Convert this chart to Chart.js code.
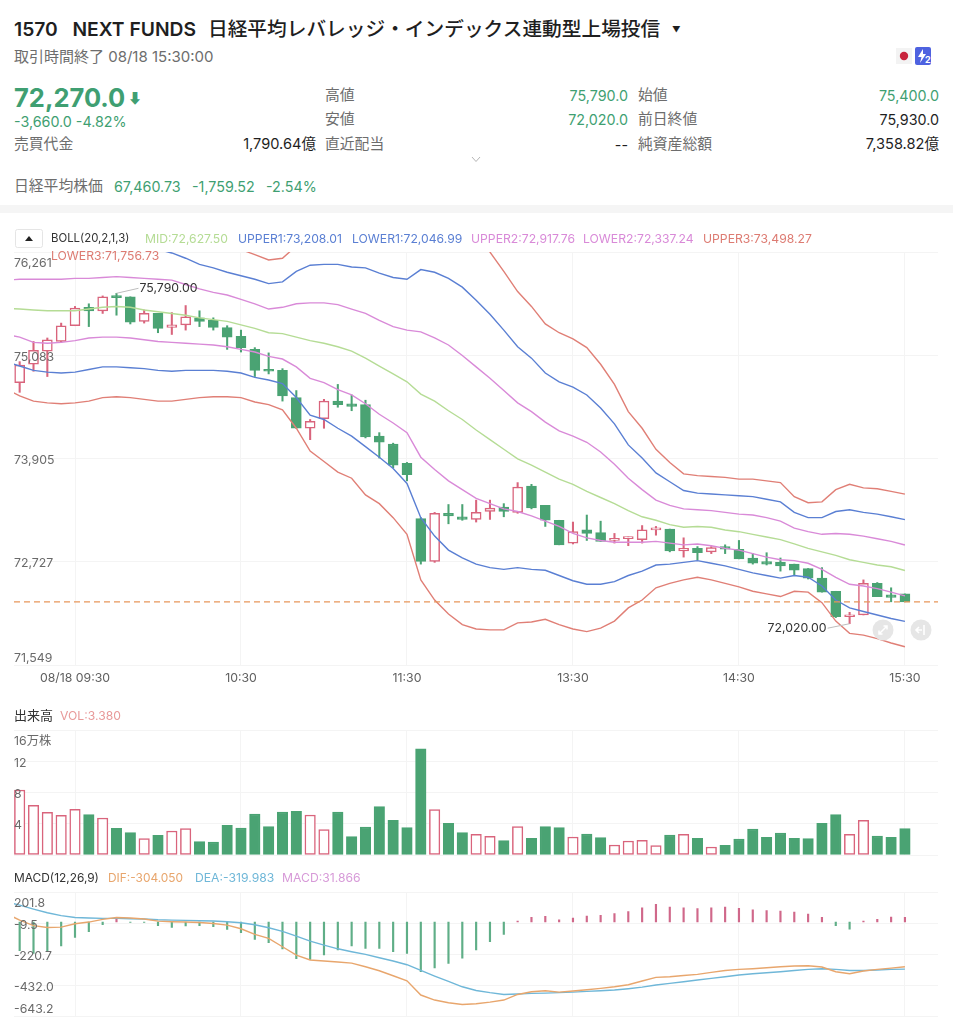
<!DOCTYPE html>
<html lang="ja"><head><meta charset="utf-8">
<script src="https://cdn.jsdelivr.net/npm/chart.js@4"></script>
<style>
html,body{margin:0;padding:0;background:#fff;width:953px;height:1024px;overflow:hidden;font-family:Inter,"Noto Sans CJK JP",sans-serif;}
.t{position:absolute;transform:translateY(-50%);white-space:nowrap;line-height:1.2;z-index:5}
.r{transform:translate(-100%,-50%)}
.g{color:#3f9f72}.k{color:#1f1f1f}.m{color:#6d6d6d}
canvas{position:absolute;left:0}
.band{position:absolute;left:0;top:205px;width:953px;height:8px;background:#f5f5f5}
.l{font-size:12.2px}
</style></head><body>
<span class="t k" style="left:14px;top:30px;font-size:19.3px;font-weight:600">1570&nbsp;&nbsp;&nbsp;NEXT FUNDS</span>
<span class="t k" style="left:208px;top:30px;font-size:19.7px;font-weight:500">日経平均レバレッジ・インデックス連動型上場投信</span>
<span class="t k" style="left:672px;top:30px;font-size:8.5px">▼</span>
<span class="t m" style="left:14px;top:57px;font-size:15px">取引時間終了 08/18 15:30:00</span>
<span class="t g" style="left:14px;top:98px;font-size:25.5px;font-weight:700">72,270.0</span>
<span class="t g" style="left:128px;top:98px;font-size:14px;font-weight:700">⬇</span>
<span class="t g" style="left:14px;top:122px;font-size:14.3px">-3,660.0 -4.82%</span>
<span class="t m" style="left:14px;top:144.5px;font-size:14.8px">売買代金</span>
<span class="t k r" style="left:316px;top:144.5px;font-size:14.6px">1,790.64億</span>
<span class="t m" style="left:325px;top:95.5px;font-size:14.8px">高値</span>
<span class="t g r" style="left:628px;top:95.5px;font-size:14.3px">75,790.0</span>
<span class="t m" style="left:638px;top:95.5px;font-size:14.8px">始値</span>
<span class="t g r" style="left:939px;top:95.5px;font-size:14.3px">75,400.0</span>
<span class="t m" style="left:325px;top:119.5px;font-size:14.8px">安値</span>
<span class="t g r" style="left:628px;top:119.5px;font-size:14.3px">72,020.0</span>
<span class="t m" style="left:638px;top:119.5px;font-size:14.8px">前日終値</span>
<span class="t k r" style="left:939px;top:119.5px;font-size:14.3px">75,930.0</span>
<span class="t m" style="left:325px;top:144.5px;font-size:14.8px">直近配当</span>
<span class="t k r" style="left:628px;top:144.5px;font-size:14.3px">--</span>
<span class="t m" style="left:638px;top:144.5px;font-size:14.8px">純資産総額</span>
<span class="t k r" style="left:939px;top:144.5px;font-size:14.6px">7,358.82億</span>
<svg style="position:absolute;left:471px;top:156px" width="10" height="7"><path d="M1 1L5 5.5L9 1" fill="none" stroke="#b5b5b5" stroke-width="1"/></svg>
<span class="t m" style="left:14px;top:186.5px;font-size:14.8px">日経平均株価</span>
<span class="t g" style="left:114px;top:186.5px;font-size:14.3px">67,460.73</span>
<span class="t g" style="left:192px;top:186.5px;font-size:14.3px">-1,759.52</span>
<span class="t g" style="left:266px;top:186.5px;font-size:14.3px">-2.54%</span>
<svg style="position:absolute;left:896px;top:47px" width="36" height="18"><rect x="0" y="1" width="16" height="16" fill="#f3f3f3"/><circle cx="8" cy="9" r="4.2" fill="#c8233c"/><rect x="19" y="0" width="16" height="18" rx="2" fill="#4e62e0"/><path d="M27 2L22 10H25.5L24 16L30 7H27Z" fill="#fff"/><text x="29" y="16" font-size="9" font-weight="700" fill="#fff" font-family="Inter">2</text></svg>
<div class="band"></div>
<svg style="position:absolute;left:15px;top:229px" width="28" height="19"><rect x=".5" y=".5" width="27" height="18" rx="2" fill="#fff" stroke="#e5e5e5"/><path d="M10 12L14 7L18 12Z" fill="#222"/></svg>
<span class="t l" style="left:51px;top:238.5px;color:#333;font-size:11.4px">BOLL(20,2,1,3)</span>
<span class="t l" style="left:145px;top:238.5px;color:#b5dc95">MID:72,627.50</span>
<span class="t l" style="left:238px;top:238.5px;color:#5a7fd3">UPPER1:73,208.01</span>
<span class="t l" style="left:352px;top:238.5px;color:#5a7fd3">LOWER1:72,046.99</span>
<span class="t l" style="left:471px;top:238.5px;color:#d98ad8">UPPER2:72,917.76</span>
<span class="t l" style="left:583px;top:238.5px;color:#d98ad8">LOWER2:72,337.24</span>
<span class="t l" style="left:703px;top:238.5px;color:#dd7b72">UPPER3:73,498.27</span>
<span class="t l" style="left:51px;top:256px;color:#dd7b72;z-index:7">LOWER3:71,756.73</span>
<span class="t l" style="left:14px;top:716px;color:#333;font-size:13px">出来高</span>
<span class="t l" style="left:60px;top:716px;color:#e89a9a">VOL:3.380</span>
<span class="t l" style="left:14px;top:878px;color:#333;font-size:11.9px">MACD(12,26,9)</span>
<span class="t l" style="left:108px;top:878px;color:#e8a66d;font-size:11.9px">DIF:-304.050</span>
<span class="t l" style="left:195px;top:878px;color:#6fb7d8">DEA:-319.983</span>
<span class="t l" style="left:282px;top:878px;color:#d79ad8">MACD:31.866</span>
<svg style="position:absolute;left:872px;top:619px;z-index:6" width="22" height="22"><circle cx="11" cy="11" r="10.5" fill="#e6e6e6"/><path d="M7 15L15 7M11.5 7H15V10.5M7 11.5V15H10.5" fill="none" stroke="#fff" stroke-width="1.5"/></svg>
<svg style="position:absolute;left:910px;top:619px;z-index:6" width="22" height="22"><circle cx="11" cy="11" r="10.5" fill="#e6e6e6"/><path d="M14 6V16M12 11H6M9 8L6 11L9 14" fill="none" stroke="#fff" stroke-width="1.6"/></svg>

<canvas id="price" width="953" height="450" style="top:240px"></canvas>
<canvas id="volume" width="953" height="140" style="top:720px"></canvas>
<canvas id="macd" width="953" height="144" style="top:880px"></canvas>
<script>
// Bar labels on the x axis: bar index -> clock label
const xTickIdx=[4,16,28,40,52,64];
const xTickLabels=['08/18 09:30','10:30','11:30','13:30','14:30','15:30'];
const priceTicks=[71549,72727,73905,75083,76261];
const priceTickLabels=['71,549','72,727','73,905','75,083','76,261'];
const volTicks=[0,4,8,12,16];
const volTickLabels=['','4','8','12','16万株'];
const macdTicks=[-643.2,-432.0,-220.7,-9.5,201.8];
const macdTickLabels=['-643.2','-432.0','-220.7','-9.5','201.8'];
const lastPrice=72270;

const opens=[74770,74980,75130,75240,75420,75630,75590,75750,75750,75470,75560,75400,75430,75510,75480,75400,75300,75150,74910,74910,74600,74250,74360,74560,74530,74520,74160,74070,73850,73220,72730,73280,73240,73210,73300,73350,73290,73590,73370,73200,72940,73090,73060,72970,72990,72980,73090,73100,72850,72880,72840,72900,72870,72770,72730,72720,72700,72650,72540,72390,72100,72120,72480,72350,72360];
const closes=[74970,75140,75260,75420,75620,75590,75750,75740,75460,75560,75390,75430,75520,75470,75400,75290,75170,74910,74900,74620,74250,74330,74560,74520,74500,74150,74090,73830,73720,72730,73280,73250,73210,73290,73340,73300,73580,73340,73200,72920,73070,73050,72960,72990,73000,73090,73100,72850,72880,72830,72890,72870,72760,72710,72700,72680,72630,72540,72380,72100,72120,72480,72330,72320,72270];
const highs=[75010,75240,75280,75450,75640,75670,75760,75790,75750,75600,75560,75570,75650,75590,75510,75420,75370,75170,75110,74930,74680,74350,74580,74750,74630,74570,74200,74080,73860,73230,73290,73380,73380,73430,73430,73390,73630,73610,73370,73200,73180,73260,73190,73050,73010,73140,73130,73100,73000,72900,72900,72920,72970,72820,72830,72770,72700,72650,72660,72390,72150,72520,72490,72430,72360];
const lows=[74660,74900,74840,75230,75420,75410,75560,75540,75440,75450,75340,75320,75370,75410,75370,75150,75120,74840,74870,74560,74250,74120,74250,74490,74450,74140,73910,73800,73650,72700,72720,73160,73200,73180,73210,73240,73280,73330,73130,72920,72930,72970,72960,72940,72910,72940,73030,72840,72780,72750,72820,72820,72760,72700,72690,72620,72570,72530,72380,72090,72020,72120,72330,72270,72270];

// Bollinger series: the first value of each belongs to the bar just before the visible window
const mid=[75620,75610,75600,75590,75590,75590,75610,75630,75640,75630,75600,75580,75560,75540,75510,75490,75470,75430,75390,75340,75330,75290,75250,75220,75180,75130,75050,74960,74870,74780,74640,74560,74450,74350,74230,74120,74010,73900,73830,73750,73670,73610,73530,73460,73390,73310,73240,73200,73150,73120,73130,73120,73090,73070,73040,73010,72980,72930,72880,72840,72800,72750,72720,72690,72670,72627.5];
const upper1=[76280,76290,76300,76300,76300,76300,76320,76340,76330,76320,76300,76290,76250,76190,76120,76080,76030,75990,75950,75900,75920,76040,76110,76120,76120,76090,76080,76020,75970,75950,76060,76030,75960,75860,75710,75550,75370,75180,75050,74880,74780,74720,74630,74480,74300,74060,73910,73740,73640,73540,73510,73500,73490,73480,73470,73440,73410,73290,73230,73230,73300,73320,73290,73270,73240,73208.01];
const lower1=[75010,74960,74910,74890,74880,74890,74920,74950,74950,74940,74930,74910,74900,74910,74910,74910,74900,74880,74830,74800,74760,74600,74400,74350,74250,74160,74040,73920,73790,73620,73230,73020,72860,72770,72700,72660,72640,72660,72640,72630,72570,72510,72470,72470,72500,72570,72620,72690,72700,72720,72740,72710,72680,72640,72600,72570,72540,72570,72550,72450,72290,72200,72160,72120,72080,72046.99];
const upper2=[75940,75950,75950,75950,75950,75960,75960,75970,75980,75970,75960,75950,75940,75890,75840,75800,75770,75720,75670,75610,75630,75670,75680,75680,75660,75610,75560,75480,75410,75370,75350,75280,75200,75080,74950,74820,74680,74540,74440,74320,74220,74160,74090,73980,73840,73680,73550,73430,73370,73330,73320,73310,73290,73270,73260,73230,73190,73110,73070,73040,73050,73040,73020,72990,72960,72917.76];
const lower2=[75320,75290,75230,75220,75230,75250,75280,75290,75290,75280,75260,75240,75230,75220,75210,75200,75180,75150,75120,75070,75040,74950,74820,74770,74690,74630,74530,74410,74310,74200,73920,73780,73650,73550,73450,73390,73330,73300,73250,73190,73130,73050,73000,72970,72950,72950,72950,72960,72940,72920,72930,72910,72880,72860,72820,72780,72750,72740,72710,72640,72550,72470,72450,72420,72380,72337.24];
const upper3=[76560,76610,76640,76650,76650,76640,76650,76680,76680,76670,76620,76580,76550,76500,76420,76370,76320,76290,76230,76170,76190,76330,76520,76570,76610,76570,76600,76540,76520,76540,76770,76820,76780,76690,76500,76260,76040,75810,75640,75440,75340,75270,75170,74980,74750,74440,74250,74010,73860,73730,73710,73700,73690,73670,73670,73650,73630,73470,73400,73410,73550,73610,73570,73560,73530,73498.27];
const lower3=[74700,74620,74560,74540,74530,74540,74560,74600,74610,74600,74580,74560,74560,74580,74600,74610,74610,74600,74550,74520,74460,74250,73990,73870,73750,73680,73490,73390,73230,73040,72520,72290,72130,72010,71960,71950,71950,72030,72040,72070,72010,71960,71930,71970,72050,72200,72290,72430,72480,72520,72550,72520,72480,72440,72390,72360,72330,72390,72380,72260,72050,71910,71890,71850,71800,71756.73];

// Volume in 万株 per bar
const volumes=[8.32,6.36,5.46,5.08,5.84,5.16,4.74,3.41,2.86,2.09,2.52,3.07,3.37,1.71,1.66,3.80,3.46,5.25,3.63,5.50,5.59,5.12,3.24,5.50,2.35,3.58,6.19,4.44,3.50,13.6,5.80,4.05,2.86,2.65,2.39,1.83,3.63,2.13,3.63,3.50,2.30,2.69,2.22,1.28,1.79,1.88,1.19,2.56,2.65,2.13,1.02,1.24,2.05,3.33,2.26,2.82,2.13,2.09,4.05,5.16,2.65,4.44,2.43,2.26,3.38];

// MACD: dif and dea start one bar before the visible window, like the Bollinger series
const macdHist=[-195,-213,-195,-163,-104,-66,-18,20,-3,-3,-25,-36,-27,-25,-32,-50,-72,-118,-140,-183,-249,-254,-224,-190,-163,-179,-179,-201,-213,-337,-312,-281,-245,-190,-134,-84,7,32,38,14,27,41,45,57,70,97,120,102,97,91,97,102,93,82,77,75,68,54,32,-25,-48,7,18,34,32];
const dif=[58,13,-25,-37,-34.5,-12,-0.4,18,31,27,20,6,2,0,-3,-10,-21,-46,-84,-111,-168,-225,-258,-265,-272,-279,-304,-331,-365,-399,-496,-530,-548,-560,-555,-544,-530,-492,-474,-467,-476,-469,-460,-451,-440,-426,-401,-376,-372,-363,-356,-342,-329,-322,-317,-311,-304,-299,-297,-306,-338,-351,-333,-322,-313,-304.05];
const dea=[137.7,115,88,63,43,31,27,24.5,24.5,22,20,15.4,13,11,8.7,6.4,2,-5,-18.5,-39,-64,-96,-130,-157,-182,-202,-220,-243,-265,-290,-329,-367,-403,-440,-465,-480,-492,-489,-485,-483,-480,-476,-471,-467,-462,-453,-442,-428,-417,-406,-394,-383,-372,-360,-351,-345,-338,-329,-322,-317,-322,-329,-329,-326,-322,-319.98];

const UP='#d9647c', DOWN='#4aa373', GRID='#f4f4f4', TICK='#6a6a6a';
const FONT='Inter,"Noto Sans CJK JP",sans-serif';
const XMIN=-0.41, XMAX=66.39;
const up=i=>closes[i]>=opens[i];

function xAxis(showLabels,height){
  return {type:'linear',min:XMIN,max:XMAX,offset:false,
    afterBuildTicks(s){s.ticks=xTickIdx.map(v=>({value:v}));},
    afterFit(s){s.height=height;s.paddingLeft=0;s.paddingRight=0;},
    grid:{color:GRID,drawTicks:false,lineWidth:1,offset:false},border:{display:false},
    ticks:{display:showLabels,autoSkip:false,maxRotation:0,minRotation:0,padding:6,color:'#606060',font:{family:FONT,size:12.3},
      callback(v){const k=xTickIdx.indexOf(v);return k<0?'':xTickLabels[k];}}};
}
function yAxis(vals,labels,min,max,shiftFirst,shiftLast){
  return {type:'linear',min,max,
    afterBuildTicks(s){s.ticks=vals.map(v=>({value:v}));},
    afterFit(s){s.width=0;s.paddingTop=0;s.paddingBottom=0;},
    grid:{color:GRID,drawTicks:false,lineWidth:1},border:{display:false},
    ticks:{mirror:true,padding:0,z:2,autoSkip:false,color:TICK,font:{family:FONT,size:12.3,lineHeight:1.45},labelOffset:2,
      callback(v){const k=vals.indexOf(v);if(k<0)return '';const t=labels[k];
        if(k===vals.length-1&&shiftLast)return ['',t];
        if(k===0&&shiftFirst)return [t,''];
        return t;}}};
}
const line=(label,data,color,width)=>({type:'line',label,data:data.map((y,i)=>({x:i-1,y})),borderColor:color,borderWidth:width||1.4,pointRadius:0,tension:0,fill:false,order:1});

// Leader lines and extreme-price labels, positioned from the data through the scales
const extremes={id:'extremes',afterDatasetsDraw(c){
  const x=c.scales.x,y=c.scales.y,ctx=c.ctx;
  const hi=Math.max(...highs),lo=Math.min(...lows);
  const px=x.getPixelForValue(highs.indexOf(hi)),py=y.getPixelForValue(hi);
  const qx=x.getPixelForValue(lows.indexOf(lo)),qy=y.getPixelForValue(lo);
  ctx.save();ctx.strokeStyle='#bdbdbd';ctx.lineWidth=1;
  ctx.beginPath();ctx.moveTo(px,py);ctx.lineTo(px+22,py-5);ctx.moveTo(qx,qy);ctx.lineTo(qx-22,qy+4.5);ctx.stroke();
  ctx.fillStyle='#333';ctx.font='12.3px '+FONT;ctx.textBaseline='middle';
  ctx.textAlign='left';ctx.fillText(hi.toLocaleString('en-US')+'.00',px+23,py-4.5);
  ctx.textAlign='right';ctx.fillText(lo.toLocaleString('en-US')+'.00',qx-23,qy+4.5);
  ctx.restore();
}};

new Chart(document.getElementById('price'),{
  data:{datasets:[
    line('MID',mid,'#b5dc95'),
    line('UPPER1',upper1,'#5a7fd3'),line('LOWER1',lower1,'#5a7fd3'),
    line('UPPER2',upper2,'#d98ad8'),line('LOWER2',lower2,'#d98ad8'),
    line('UPPER3',upper3,'#e07f76'),line('LOWER3',lower3,'#e07f76'),
    {type:'line',label:'Last',data:[{x:XMIN,y:lastPrice},{x:XMAX,y:lastPrice}],borderColor:'#e8965a',borderWidth:1.2,borderDash:[6,4],pointRadius:0,order:0},
    {type:'bar',label:'Body',data:opens.map((o,i)=>({x:i,y:[o,closes[i]]})),grouped:false,barThickness:10,minBarLength:2,borderSkipped:false,
      backgroundColor:opens.map((o,i)=>up(i)?'#fff':DOWN),borderColor:opens.map((o,i)=>up(i)?UP:DOWN),borderWidth:1.5,order:2},
    {type:'bar',label:'Wick',data:highs.map((h,i)=>({x:i,y:[lows[i],h]})),grouped:false,barThickness:1.4,borderSkipped:false,
      backgroundColor:opens.map((o,i)=>up(i)?UP:DOWN),borderWidth:0,order:3}
  ]},
  options:{responsive:false,animation:false,events:[],parsing:{xAxisKey:'x',yAxisKey:'y'},
    layout:{padding:{left:14,right:15,top:12,bottom:0}},
    plugins:{legend:{display:false},tooltip:{enabled:false}},
    scales:{x:xAxis(true,25),y:yAxis(priceTicks,priceTickLabels,71549,76261,true,true)}},
  plugins:[extremes]
});
new Chart(document.getElementById('volume'),{
  data:{datasets:[{type:'bar',label:'VOL',data:volumes.map((v,i)=>({x:i,y:v})),grouped:false,barThickness:10.5,borderSkipped:false,
    backgroundColor:volumes.map((v,i)=>up(i)?'#fff':DOWN),borderColor:volumes.map((v,i)=>up(i)?UP:DOWN),borderWidth:1.5}]},
  options:{responsive:false,animation:false,events:[],
    layout:{padding:{left:14,right:15,top:10,bottom:5}},
    plugins:{legend:{display:false},tooltip:{enabled:false}},
    scales:{x:xAxis(false,0),y:yAxis(volTicks,volTickLabels,0,16,false,true)}}
});
new Chart(document.getElementById('macd'),{
  data:{datasets:[
    line('DIF',dif,'#e8a66d'),line('DEA',dea,'#6fb7d8'),
    {type:'bar',label:'MACD',data:macdHist.map((v,i)=>({x:i,y:v})),grouped:false,barThickness:1.5,borderWidth:0,
      backgroundColor:macdHist.map(v=>v>=0?'#d0688a':'#5fae87'),order:2}
  ]},
  options:{responsive:false,animation:false,events:[],
    layout:{padding:{left:14,right:15,top:12.3,bottom:7.3}},
    plugins:{legend:{display:false},tooltip:{enabled:false}},
    scales:{x:xAxis(false,0),y:yAxis(macdTicks,macdTickLabels,-643.2,201.8,true,true)}}
});
</script>
</body></html>
